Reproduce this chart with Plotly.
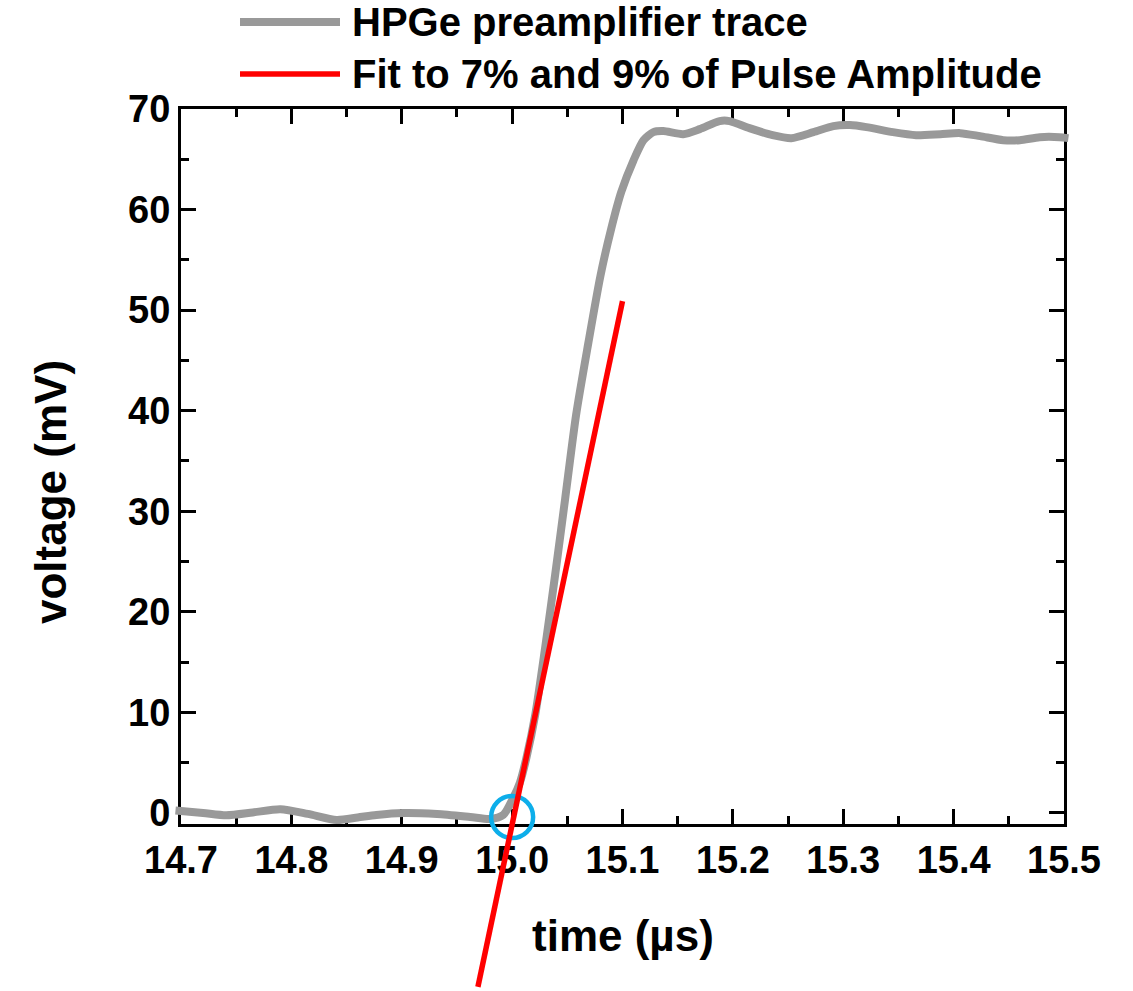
import plotly.graph_objects as go

# ---------------- data ----------------
time_us = [14.695, 14.720, 14.741, 14.765, 14.790, 14.815, 14.841, 14.860, 14.877, 14.901,
           14.932, 14.962, 14.980, 14.992, 15.001, 15.007, 15.013, 15.021, 15.030, 15.039,
           15.048, 15.058, 15.069, 15.080, 15.090, 15.099, 15.110, 15.119, 15.128, 15.137,
           15.155, 15.170, 15.188, 15.197, 15.215, 15.236, 15.253, 15.273, 15.291, 15.306,
           15.321, 15.345, 15.366, 15.388, 15.406, 15.424, 15.445, 15.460, 15.478, 15.496,
           15.504]
voltage_mV = [0.25, 0.0, -0.23, 0.05, 0.37, -0.1, -0.7, -0.45, -0.2, 0.0,
              -0.1, -0.4, -0.6, -0.2, 1.5, 3.0, 5.5, 9.8, 16.5, 23.7,
              31.2, 39.6, 46.7, 53.4, 58.2, 61.8, 64.9, 66.9, 67.7, 67.8,
              67.5, 68.0, 68.8, 68.8, 68.1, 67.4, 67.1, 67.7, 68.3, 68.4,
              68.2, 67.7, 67.4, 67.5, 67.6, 67.3, 66.9, 66.9, 67.2, 67.2,
              67.1]

fit_time = [14.969, 15.100]
fit_voltage = [-17.3, 50.9]

t0_time = [15.0]
t0_voltage = [-0.4]

x_tickvals = [14.7, 14.8, 14.9, 15.0, 15.1, 15.2, 15.3, 15.4, 15.5]
x_ticktext = ["14.7", "14.8", "14.9", "15.0", "15.1", "15.2", "15.3", "15.4", "15.5"]
x_minorvals = [14.75, 14.85, 14.95, 15.05, 15.15, 15.25, 15.35, 15.45]
y_tickvals = [0, 10, 20, 30, 40, 50, 60, 70]
y_ticktext = ["0", "10", "20", "30", "40", "50", "60", "70"]
y_minorvals = [5, 15, 25, 35, 45, 55, 65]

X_RANGE = [14.7, 15.5]
Y_RANGE = [-1.1, 70]

series_names = ["HPGe preamplifier trace", "Fit to 7% and 9% of Pulse Amplitude"]
series_colors = ["#999999", "#FF0000"]
series_widths = [8, 5.5]

# ---------------- layout geometry ----------------
W, H = 1133, 991
PL, PR, PT, PB = 181, 1064, 109, 824   # plot frame edges in px

FONT = "Liberation Sans, Arial, Helvetica, sans-serif"

# an invisible full-page axis pair, scaled identically to the visible axes,
# so the fit line and the trace ends are not clipped by the plot frame
xpp = (X_RANGE[1] - X_RANGE[0]) / (PR - PL)
ypp = (Y_RANGE[1] - Y_RANGE[0]) / (PB - PT)
x2_range = [X_RANGE[0] - PL * xpp, X_RANGE[1] + (W - PR) * xpp]
y2_range = [Y_RANGE[0] - (H - PB) * ypp, Y_RANGE[1] + PT * ypp]

fig = go.Figure()

# dummy trace to host the visible frame axes
fig.add_trace(go.Scatter(x=X_RANGE, y=[Y_RANGE[1], Y_RANGE[1]], mode="markers",
                         marker=dict(opacity=0), showlegend=False, hoverinfo="skip",
                         xaxis="x", yaxis="y"))

fig.add_trace(go.Scatter(x=time_us, y=voltage_mV, mode="lines", name=series_names[0],
                         line=dict(color=series_colors[0], width=series_widths[0],
                                   shape="spline", smoothing=0.7),
                         showlegend=False, xaxis="x2", yaxis="y2"))
fig.add_trace(go.Scatter(x=t0_time, y=t0_voltage, mode="markers", showlegend=False,
                         name="t0",
                         marker=dict(symbol="circle-open", size=42,
                                     line=dict(color="#0DAEEA", width=4.5),
                                     color="#0DAEEA"),
                         cliponaxis=False, xaxis="x2", yaxis="y2"))
fig.add_trace(go.Scatter(x=fit_time, y=fit_voltage, mode="lines", name=series_names[1],
                         line=dict(color=series_colors[1], width=series_widths[1]),
                         showlegend=False, xaxis="x2", yaxis="y2"))

tickfont = dict(family=FONT, size=38, color="black", weight="bold")
axis_common = dict(showline=True, linewidth=3, linecolor="black", mirror="allticks",
                   ticks="inside", ticklen=15, tickwidth=3, tickcolor="black",
                   showgrid=False, zeroline=False, tickfont=tickfont, tickmode="array",
                   automargin=False)

# legend drawn as key lines + labels above the frame (long key lines as in the original)
LEG_X0, LEG_X1, LEG_TX = 240, 340, 350
LEG_ROWS = [22, 74]
shapes = []
annotations = []
for name, color, width, row in zip(series_names, series_colors, series_widths, LEG_ROWS):
    shapes.append(dict(type="line", xref="paper", yref="paper",
                       x0=LEG_X0 / W, x1=LEG_X1 / W, y0=1 - row / H, y1=1 - row / H,
                       line=dict(color=color, width=width)))
    annotations.append(dict(text=name, x=LEG_TX / W, y=1 - row / H, xref="paper", yref="paper",
                            xanchor="left", yanchor="middle", showarrow=False,
                            font=dict(family=FONT, size=40, color="black", weight="bold")))

annotations += [
    dict(text="time (µs)", x=(PL + PR) / 2 / W, y=1 - 935 / H, xref="paper", yref="paper",
         xanchor="center", yanchor="middle", showarrow=False,
         font=dict(family=FONT, size=44, color="black", weight="bold")),
    dict(text="voltage (mV)", x=50 / W, y=1 - 492 / H, xref="paper", yref="paper",
         xanchor="center", yanchor="middle", showarrow=False, textangle=-90,
         font=dict(family=FONT, size=44, color="black", weight="bold")),
]

fig.update_layout(
    width=W, height=H, autosize=False,
    margin=dict(l=0, r=0, t=0, b=0, pad=0),
    paper_bgcolor="white", plot_bgcolor="rgba(0,0,0,0)",
    xaxis=dict(domain=[PL / W, PR / W], anchor="y", range=X_RANGE,
               tickvals=x_tickvals, ticktext=x_ticktext,
               minor=dict(tickvals=x_minorvals, ticks="inside", ticklen=8, tickwidth=3,
                          tickcolor="black", showgrid=False),
               **axis_common),
    yaxis=dict(domain=[1 - PB / H, 1 - PT / H], anchor="x", range=Y_RANGE,
               tickvals=y_tickvals, ticktext=y_ticktext,
               minor=dict(tickvals=y_minorvals, ticks="inside", ticklen=8, tickwidth=3,
                          tickcolor="black", showgrid=False),
               **axis_common),
    xaxis2=dict(domain=[0, 1], anchor="y2", range=x2_range, visible=False, automargin=False),
    yaxis2=dict(domain=[0, 1], anchor="x2", range=y2_range, visible=False, automargin=False),
    showlegend=False,
    shapes=shapes,
    annotations=annotations,
)

fig.write_html("out.html", config={"displayModeBar": False},
               post_script="document.body.style.margin='0px';")
